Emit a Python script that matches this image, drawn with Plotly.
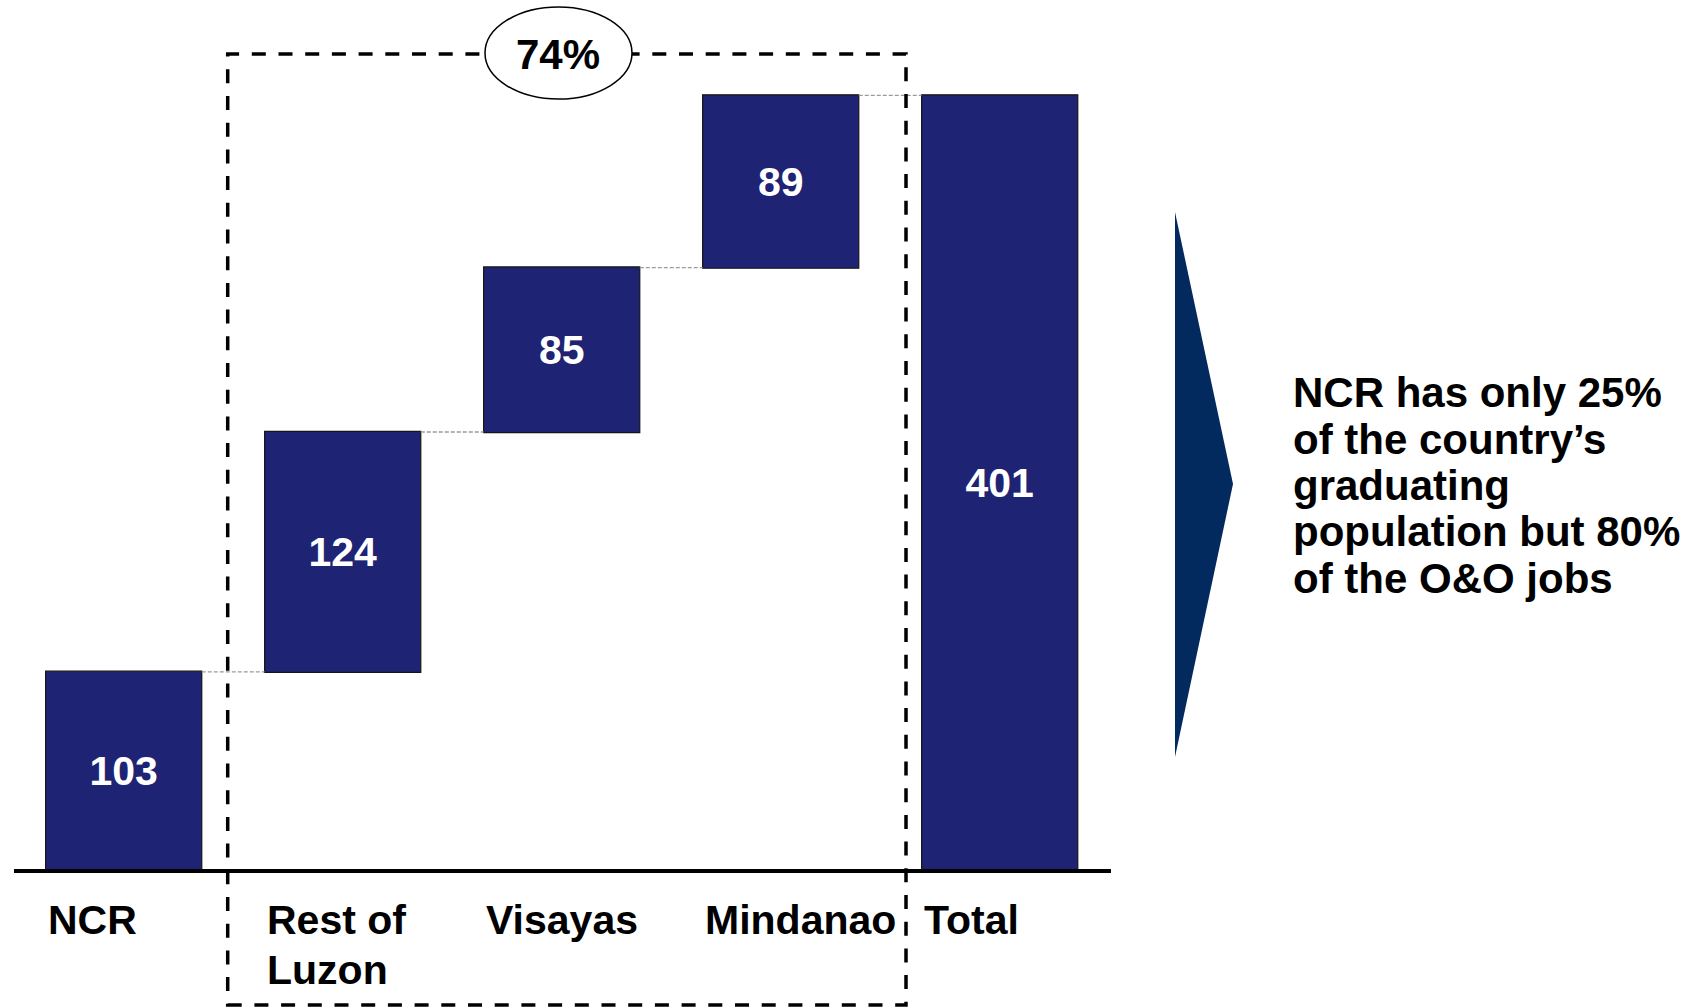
import plotly.graph_objects as go

# Graduates by region (thousands) and the total
categories = ["NCR", "Rest of<br>Luzon", "Visayas", "Mindanao", "Total"]
values = [103, 124, 85, 89, 401]
measures = ["relative", "relative", "relative", "relative", "total"]
bar_labels = ["103", "124", "85", "89", "401"]
share_label = "74%"
note_lines = [
    "NCR has only 25%",
    "of the country\u2019s",
    "graduating",
    "population but 80%",
    "of the O&O jobs",
]

# Page geometry
W, H = 1700, 1008
BAR_COLOR = "#1F2373"
ARROW_COLOR = "#022A5E"
FONT = "Liberation Sans, Arial, sans-serif"

# Scale setup: first bar centre, spacing between bars and value-to-pixel ratio
X0_PX, STEP_PX = 123.7, 219.0
BASE_PX, UNIT_PX = 871.0, 1.934
bar_width = 0.713

positions = list(range(len(categories)))


def px_x(p):
    return p / W


def px_y(p):
    return 1 - p / H


fig = go.Figure(
    go.Waterfall(
        x=positions,
        y=values,
        measure=measures,
        width=bar_width,
        text=bar_labels,
        textposition="inside",
        insidetextanchor="middle",
        textfont=dict(family=FONT, size=41, color="white", weight="bold"),
        increasing=dict(marker=dict(color=BAR_COLOR, line=dict(color="#151515", width=1.2))),
        totals=dict(marker=dict(color=BAR_COLOR, line=dict(color="#151515", width=1.2))),
        connector=dict(mode="between", line=dict(color="#9a9a9a", width=1.3, dash="4px,2px")),
        cliponaxis=False,
        hoverinfo="skip",
        showlegend=False,
    )
)

# Category labels, left-aligned under each bar, one annotation per text line
LABEL_TOP_PX, LABEL_LINE_PX = 920.0, 50.0
for pos, name in zip(positions, categories):
    for j, part in enumerate(name.split("<br>")):
        fig.add_annotation(
            x=pos - bar_width / 2,
            xref="x",
            y=px_y(LABEL_TOP_PX + LABEL_LINE_PX * j),
            yref="paper",
            text=part,
            showarrow=False,
            xanchor="left",
            yanchor="middle",
            align="left",
            font=dict(family=FONT, size=41, color="black", weight="bold"),
        )

shapes = [
    # base line
    dict(
        type="line", xref="paper", yref="y",
        x0=px_x(14), x1=px_x(1111), y0=0, y1=0,
        line=dict(color="black", width=4),
    ),
    # dashed frame around the regions outside NCR
    dict(
        type="rect", xref="paper", yref="paper",
        x0=px_x(227.7), x1=px_x(906), y0=px_y(1005), y1=px_y(54),
        line=dict(color="black", width=3.5, dash="14px,12.7px"),
        fillcolor="rgba(0,0,0,0)",
    ),
    # oval holding the share
    dict(
        type="circle", xref="paper", yref="paper",
        x0=px_x(485), x1=px_x(632), y0=px_y(99), y1=px_y(7),
        line=dict(color="black", width=1.5),
        fillcolor="white",
    ),
    # chevron pointing to the takeaway
    dict(
        type="path", xref="paper", yref="paper",
        path=(
            f"M {px_x(1175)} {px_y(212)} L {px_x(1233)} {px_y(484)} "
            f"L {px_x(1175)} {px_y(757)} Z"
        ),
        fillcolor=ARROW_COLOR,
        line=dict(width=0),
    ),
]

fig.add_annotation(
    x=px_x(558), xref="paper", y=px_y(54), yref="paper",
    text=share_label, showarrow=False, xanchor="center", yanchor="middle",
    font=dict(family=FONT, size=42, color="black", weight="bold"),
)

for i, line in enumerate(note_lines):
    fig.add_annotation(
        x=px_x(1291), xref="paper", y=px_y(393 + 46.3 * i), yref="paper",
        text=line, showarrow=False, xanchor="left", yanchor="middle",
        font=dict(family=FONT, size=42, color="black", weight="bold"),
    )

fig.update_layout(
    width=W,
    height=H,
    margin=dict(l=0, r=0, t=0, b=0),
    paper_bgcolor="white",
    plot_bgcolor="white",
    shapes=shapes,
    showlegend=False,
    xaxis=dict(
        range=[-X0_PX / STEP_PX, (W - X0_PX) / STEP_PX],
        visible=False, showgrid=False, zeroline=False, fixedrange=True,
    ),
    yaxis=dict(
        range=[(BASE_PX - H) / UNIT_PX, BASE_PX / UNIT_PX],
        visible=False, showgrid=False, zeroline=False, fixedrange=True,
    ),
)

fig.write_html("out.html")
